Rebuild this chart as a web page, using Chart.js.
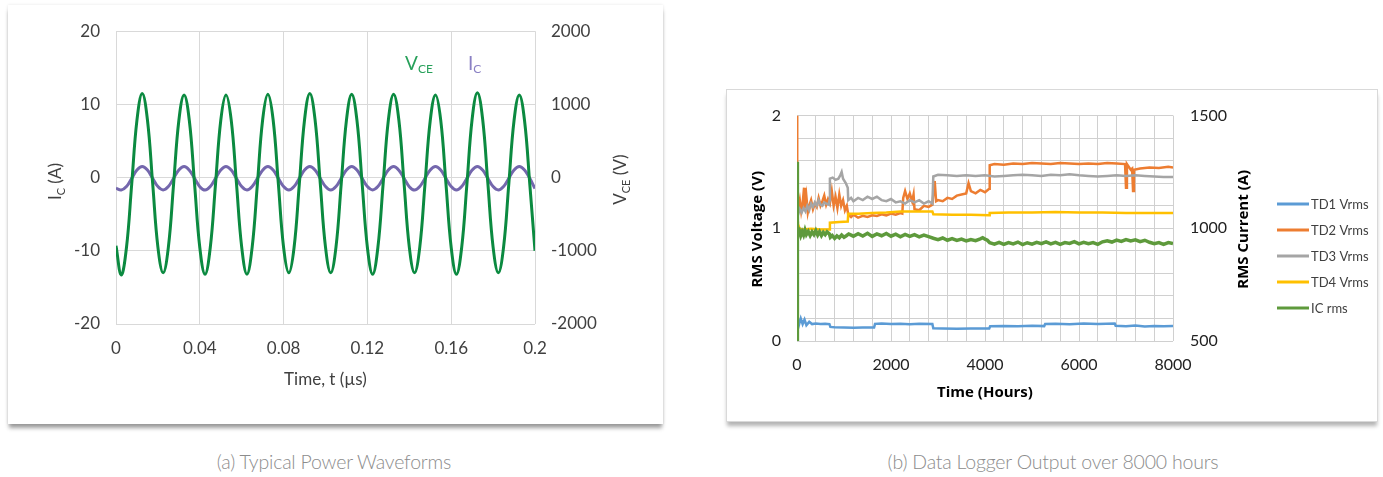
<!DOCTYPE html>
<html lang="en">
<head>
    <meta charset="UTF-8">
    <title>Typical Power Waveforms / Data Logger Output</title>
    <script src="https://cdn.jsdelivr.net/npm/chart.js"></script>
    <style>
        body { margin: 0; width: 1383px; height: 477px; background: #fff; position: relative; overflow: hidden; font-family: Lato, sans-serif; }
        .panel { position: absolute; background: #fff; }
        #panelA { left: 8px; top: 5px; width: 655px; height: 419px; box-shadow: 0 5px 4px -1px rgba(0,0,0,0.38), 0 0 3px rgba(0,0,0,0.10); }
        #panelB { left: 726px; top: 89px; width: 650px; height: 331px; border: 1px solid #d9d9d9; box-shadow: 0 5px 4px -1px rgba(0,0,0,0.30); }
        canvas { position: absolute; }
        .caption { position: absolute; top: 450px; color: #8c8c8c; font-size: 19.5px; font-weight: 300; text-align: center; width: 400px; letter-spacing: -0.2px; }
    </style>
</head>
<body>
    <div class="panel" id="panelA"></div>
    <div class="panel" id="panelB"></div>
    <canvas id="waveChart" width="655" height="419" style="left:8px; top:5px;"></canvas>
    <canvas id="loggerChart" width="652" height="333" style="left:726px; top:89px;"></canvas>
    <div class="caption" style="left:134px;">(a) Typical Power Waveforms</div>
    <div class="caption" style="left:853px;">(b) Data Logger Output over 8000 hours</div>

    <script>
        // ---------- (a) waveforms, sampled every 0.0025 µs ----------
        const sampleStepUs = 0.0025;
        const vceVolts = [-930,
            -1330, -955, -90, 785, 1150, 790, -80, -950,
            -1300, -950, -85, 780, 1130, 780, -85, -955,
            -1320, -955, -90, 780, 1130, 785, -80, -950,
            -1320, -950, -85, 790, 1140, 790, -85, -955,
            -1300, -955, -90, 790, 1150, 795, -80, -950,
            -1300, -950, -85, 785, 1140, 785, -85, -955,
            -1320, -955, -90, 785, 1140, 790, -80, -950,
            -1300, -950, -85, 780, 1130, 785, -85, -955,
            -1320, -955, -90, 800, 1160, 800, -80, -950,
            -1300, -950, -85, 780, 1130, 780, -85, -1000];
        const icAmps = [-1.45,
            -1.7, -1.23, -0.1, 1.03, 1.5, 1.03, -0.1, -1.23,
            -1.68, -1.22, -0.1, 1.04, 1.5, 1.02, -0.1, -1.24,
            -1.7, -1.23, -0.1, 1.03, 1.52, 1.03, -0.1, -1.23,
            -1.69, -1.22, -0.1, 1.02, 1.5, 1.03, -0.1, -1.23,
            -1.7, -1.23, -0.1, 1.03, 1.5, 1.04, -0.1, -1.22,
            -1.7, -1.23, -0.1, 1.03, 1.51, 1.03, -0.1, -1.23,
            -1.68, -1.23, -0.1, 1.03, 1.5, 1.02, -0.1, -1.24,
            -1.7, -1.22, -0.1, 1.04, 1.5, 1.03, -0.1, -1.23,
            -1.7, -1.23, -0.1, 1.03, 1.52, 1.03, -0.1, -1.23,
            -1.69, -1.22, -0.1, 1.03, 1.5, 1.03, -0.1, -1.5];
        const timeUs = vceVolts.map((_, i) => +(i * sampleStepUs).toFixed(4));

        // ---------- (b) logger output ----------
        const td1Hours = [0, 10, 40, 80, 120, 160, 200, 260, 320, 400, 500, 600, 690, 710, 800, 1000, 1200, 1400, 1640, 1660, 1800, 2000, 2200, 2400, 2600, 2880, 2900, 3100, 3400, 3700, 4090, 4110, 4400, 4700, 5000, 5260, 5280, 5500, 5800, 6100, 6400, 6760, 6780, 7000, 7200, 7400, 7600, 7800, 8000];
        const td1Vrms = [0.16, 0.21, 0.14, 0.20, 0.15, 0.19, 0.14, 0.17, 0.15, 0.155, 0.15, 0.152, 0.15, 0.125, 0.122, 0.12, 0.118, 0.119, 0.12, 0.152, 0.155, 0.15, 0.153, 0.148, 0.152, 0.15, 0.112, 0.11, 0.109, 0.11, 0.11, 0.13, 0.133, 0.13, 0.135, 0.132, 0.15, 0.152, 0.148, 0.155, 0.15, 0.155, 0.135, 0.13, 0.138, 0.128, 0.132, 0.13, 0.133];

        const td2Hours = [0, 5, 30, 60, 90, 120, 150, 170, 200, 230, 260, 300, 340, 380, 420, 460, 500, 540, 580, 620, 660, 700, 740, 780, 820, 860, 900, 940, 980, 1020, 1060, 1090, 1150, 1200, 1300, 1400, 1500, 1600, 1700, 1800, 1900, 2000, 2100, 2200, 2240, 2260, 2300, 2350, 2400, 2450, 2480, 2500, 2600, 2700, 2800, 2880, 2900, 2930, 2960, 3000, 3100, 3200, 3300, 3400, 3500, 3600, 3650, 3700, 3800, 3900, 4000, 4090, 4100, 4200, 4400, 4600, 4800, 5000, 5200, 5400, 5600, 5800, 6000, 6200, 6400, 6600, 6800, 6980, 7000, 7020, 7100, 7130, 7150, 7170, 7300, 7500, 7700, 7900, 8000];
        const td2Vrms = [2.0, 1.3, 1.18, 1.25, 1.15, 1.22, 1.36, 1.18, 1.28, 1.14, 1.2, 1.25, 1.17, 1.22, 1.19, 1.27, 1.2, 1.24, 1.29, 1.21, 1.26, 1.22, 1.33, 1.2, 1.28, 1.18, 1.3, 1.2, 1.25, 1.16, 1.2, 1.12, 1.1, 1.12, 1.095, 1.11, 1.1, 1.115, 1.11, 1.125, 1.115, 1.13, 1.12, 1.135, 1.13, 1.27, 1.33, 1.26, 1.31, 1.24, 1.3, 1.17, 1.16, 1.2, 1.19, 1.21, 1.3, 1.42, 1.24, 1.25, 1.24, 1.27, 1.26, 1.29, 1.3, 1.31, 1.4, 1.33, 1.31, 1.34, 1.32, 1.35, 1.56, 1.57, 1.565, 1.575, 1.57, 1.58, 1.575, 1.57, 1.58, 1.575, 1.57, 1.575, 1.57, 1.58, 1.575, 1.57, 1.36, 1.57, 1.52, 1.53, 1.33, 1.52, 1.53, 1.54, 1.535, 1.545, 1.54];

        const td3Hours = [0, 30, 60, 100, 140, 180, 220, 260, 300, 340, 380, 420, 460, 500, 540, 580, 620, 680, 690, 700, 760, 820, 880, 920, 950, 980, 1040, 1080, 1090, 1150, 1200, 1300, 1400, 1500, 1600, 1700, 1800, 1900, 2000, 2100, 2200, 2300, 2400, 2500, 2600, 2700, 2800, 2880, 2900, 3000, 3200, 3400, 3600, 3800, 4000, 4200, 4400, 4600, 4800, 5000, 5200, 5400, 5600, 5800, 6000, 6200, 6400, 6600, 6800, 7000, 7200, 7400, 7600, 7800, 8000];
        const td3Vrms = [1.16, 1.13, 1.17, 1.14, 1.18, 1.15, 1.2, 1.16, 1.22, 1.19, 1.23, 1.2, 1.25, 1.21, 1.2, 1.23, 1.22, 1.21, 1.25, 1.44, 1.45, 1.43, 1.44, 1.47, 1.5, 1.44, 1.4, 1.36, 1.25, 1.27, 1.24, 1.27, 1.25, 1.28, 1.26, 1.28, 1.25, 1.24, 1.26, 1.23, 1.24, 1.22, 1.25, 1.23, 1.25, 1.22, 1.24, 1.22, 1.46, 1.475, 1.47, 1.465, 1.47, 1.465, 1.47, 1.46, 1.465, 1.47, 1.475, 1.47, 1.465, 1.475, 1.47, 1.48, 1.47, 1.465, 1.46, 1.465, 1.47, 1.465, 1.47, 1.465, 1.46, 1.455, 1.455];

        const td4Hours = [0, 20, 50, 100, 300, 500, 690, 700, 900, 1080, 1090, 1300, 1600, 1900, 2200, 2500, 2880, 2900, 3300, 3700, 4090, 4100, 4500, 5000, 5500, 6000, 6500, 7000, 7500, 8000];
        const td4Vrms = [1.06, 1.04, 1.0, 0.99, 0.995, 0.99, 0.99, 1.05, 1.055, 1.06, 1.13, 1.13, 1.135, 1.14, 1.148, 1.15, 1.15, 1.125, 1.12, 1.12, 1.115, 1.135, 1.14, 1.14, 1.145, 1.14, 1.14, 1.135, 1.135, 1.135];

        const icHours = [0, 0, 5, 20, 50, 80, 110, 140, 170, 200, 240, 280, 320, 360, 400, 440, 480, 520, 560, 600, 640, 690, 710, 750, 800, 850, 900, 950, 1000, 1050, 1100, 1200, 1300, 1400, 1500, 1600, 1700, 1800, 1900, 2000, 2100, 2200, 2300, 2400, 2500, 2600, 2700, 2800, 2900, 3000, 3100, 3200, 3300, 3400, 3500, 3600, 3700, 3800, 3900, 3950, 4000, 4050, 4100, 4200, 4300, 4400, 4500, 4600, 4700, 4800, 4900, 5000, 5100, 5200, 5300, 5400, 5500, 5600, 5700, 5800, 5900, 6000, 6100, 6200, 6300, 6400, 6500, 6600, 6700, 6800, 6900, 7000, 7100, 7200, 7300, 7400, 7500, 7600, 7700, 7800, 7900, 8000];
        const icRms = [500, 1295, 900, 978, 990, 968, 985, 970, 992, 972, 986, 968, 984, 972, 990, 970, 985, 968, 982, 972, 984, 975, 960, 968, 955, 966, 958, 970, 960, 967, 975, 965, 976, 966, 978, 964, 975, 967, 977, 965, 974, 962, 973, 964, 972, 962, 970, 963, 956, 950, 957, 947, 954, 946, 952, 944, 950, 945, 953, 958, 952, 947, 936, 930, 938, 929, 937, 931, 939, 928, 936, 930, 938, 932, 940, 931, 938, 929, 937, 933, 941, 931, 938, 932, 937, 929, 940, 945, 939, 948, 942, 950, 944, 949, 941, 947, 938, 932, 937, 929, 937, 932];

        const loggerSeries = [
            { label: 'TD1 Vrms', hours: td1Hours, values: td1Vrms, color: '#5b9bd5', axis: 'yVolt', order: 5 },
            { label: 'TD2 Vrms', hours: td2Hours, values: td2Vrms, color: '#ed7d31', axis: 'yVolt', order: 4 },
            { label: 'TD3 Vrms', hours: td3Hours, values: td3Vrms, color: '#a5a5a5', axis: 'yVolt', order: 3 },
            { label: 'TD4 Vrms', hours: td4Hours, values: td4Vrms, color: '#ffc000', axis: 'yVolt', order: 2 },
            { label: 'IC rms', hours: icHours, values: icRms, color: '#5e9a3c', axis: 'yAmp', order: 1 }
        ];

        Chart.defaults.font.family = 'Lato, sans-serif';

        const toPoints = (xs, ys) => xs.map((x, i) => ({ x: x, y: ys[i] }));

        // text with subscripts, e.g. I_C ; parts = [{text, sub}]
        function drawRichText(ctx, parts, x, y, angle, size, color, align) {
            const font = size + 'px Lato, sans-serif';
            const subFont = Math.round(size * 0.65) + 'px Lato, sans-serif';
            ctx.save();
            ctx.translate(x, y);
            ctx.rotate(angle);
            ctx.fillStyle = color;
            ctx.textBaseline = 'middle';
            ctx.textAlign = 'left';
            let total = 0;
            parts.forEach(p => { ctx.font = p.sub ? subFont : font; total += ctx.measureText(p.text).width; });
            let cx = align === 'left' ? 0 : -total / 2;
            parts.forEach(p => {
                ctx.font = p.sub ? subFont : font;
                ctx.fillText(p.text, cx, p.sub ? size * 0.3 : 0);
                cx += ctx.measureText(p.text).width;
            });
            ctx.restore();
        }

        const waveTitles = {
            id: 'waveTitles',
            afterDraw(chart) {
                const { ctx, chartArea: a, scales } = chart;
                const midY = (a.top + a.bottom) / 2;
                drawRichText(ctx, [{ text: 'I' }, { text: 'C', sub: true }, { text: ' (A)' }], a.left - 60, midY + 4, -Math.PI / 2, 17, '#404040');
                drawRichText(ctx, [{ text: 'V' }, { text: 'CE', sub: true }, { text: ' (V)' }], a.right + 86, midY + 2, -Math.PI / 2, 17, '#404040');
                drawRichText(ctx, [{ text: 'Time, t (µs)' }], (a.left + a.right) / 2, a.bottom + 56, 0, 17, '#404040');
                // series labels inside the plot
                drawRichText(ctx, [{ text: 'V' }, { text: 'CE', sub: true }], scales.x.getPixelForValue(0.138), scales.yI.getPixelForValue(15.6), 0, 19, '#27a05a', 'left');
                drawRichText(ctx, [{ text: 'I' }, { text: 'C', sub: true }], scales.x.getPixelForValue(0.168), scales.yI.getPixelForValue(15.6), 0, 19, '#8a80c4', 'left');
            }
        };

        new Chart(document.getElementById('waveChart'), {
            type: 'line',
            data: {
                datasets: [
                    { label: 'VCE', data: toPoints(timeUs, vceVolts), yAxisID: 'yV', borderColor: '#0b8a40', borderWidth: 3, pointRadius: 0, tension: 0.4 },
                    { label: 'IC', data: toPoints(timeUs, icAmps), yAxisID: 'yI', borderColor: '#7467ad', borderWidth: 3, pointRadius: 0, tension: 0.4 }
                ]
            },
            options: {
                responsive: false,
                animation: false,
                devicePixelRatio: 1,
                layout: { padding: { top: 25, left: 0, right: 0, bottom: 0 } },
                plugins: { legend: { display: false }, tooltip: { enabled: false } },
                scales: {
                    x: {
                        type: 'linear', min: 0, max: 0.2,
                        ticks: { stepSize: 0.04, padding: 14, color: '#404040', font: { size: 17 }, maxRotation: 0,
                            callback: v => v === 0 ? '0' : String(+v.toFixed(2)) },
                        grid: { color: '#d9d9d9', drawTicks: false },
                        border: { display: false },
                        afterFit: s => { s.height = 100; }
                    },
                    yI: {
                        position: 'left', min: -20, max: 20,
                        ticks: { stepSize: 10, padding: 16, color: '#404040', font: { size: 17 }, callback: v => String(v) },
                        grid: { color: '#d9d9d9', drawTicks: false },
                        border: { display: false },
                        afterFit: s => { s.width = 108; }
                    },
                    yV: {
                        position: 'right', min: -2000, max: 2000,
                        ticks: { stepSize: 1000, padding: 16, color: '#404040', font: { size: 17 }, callback: v => String(v) },
                        grid: { drawOnChartArea: false, drawTicks: false },
                        border: { display: false },
                        afterFit: s => { s.width = 128; }
                    }
                }
            },
            plugins: [waveTitles]
        });

        const loggerTitles = {
            id: 'loggerTitles',
            afterDraw(chart) {
                const { ctx, chartArea: a } = chart;
                const midY = (a.top + a.bottom) / 2;
                ctx.save();
                ctx.fillStyle = '#000';
                ctx.font = 'bold 15px "Open Sans", sans-serif';
                ctx.textAlign = 'center';
                ctx.textBaseline = 'middle';
                ctx.fillText('Time (Hours)', (a.left + a.right) / 2, a.bottom + 52);
                [[a.left - 39, 'RMS Voltage (V)'], [a.right + 71, 'RMS Current (A)']].forEach(([x, t]) => {
                    ctx.save();
                    ctx.translate(x, midY + 1);
                    ctx.rotate(-Math.PI / 2);
                    ctx.fillText(t, 0, 0);
                    ctx.restore();
                });
                // legend
                ctx.textAlign = 'left';
                ctx.font = '13px Lato, sans-serif';
                loggerSeries.forEach((s, i) => {
                    const y = 115 + i * 26;
                    ctx.strokeStyle = s.color;
                    ctx.lineWidth = 3;
                    ctx.beginPath();
                    ctx.moveTo(551, y);
                    ctx.lineTo(583, y);
                    ctx.stroke();
                    ctx.fillStyle = '#404040';
                    ctx.fillText(s.label, 585, y + 1);
                });
                ctx.restore();
            }
        };

        new Chart(document.getElementById('loggerChart'), {
            type: 'line',
            data: {
                datasets: loggerSeries.map(s => ({
                    label: s.label,
                    data: toPoints(s.hours, s.values),
                    yAxisID: s.axis,
                    order: s.order,
                    borderColor: s.color,
                    borderWidth: s.axis === 'yAmp' ? 3.5 : 2.5,
                    pointRadius: 0,
                    tension: 0
                }))
            },
            options: {
                responsive: false,
                animation: false,
                devicePixelRatio: 1,
                layout: { padding: { top: 19, left: 0, right: 0, bottom: 0 } },
                plugins: { legend: { display: false }, tooltip: { enabled: false } },
                scales: {
                    x: {
                        type: 'linear', min: 0, max: 8000,
                        ticks: { stepSize: 400, autoSkip: false, maxTicksLimit: 100, maxRotation: 0, padding: 14, color: '#222', font: { size: 16 },
                            callback: v => v % 2000 === 0 ? String(v) : '' },
                        grid: { color: '#d0d0d0', drawTicks: false },
                        border: { display: false },
                        afterFit: s => { s.height = 81; }
                    },
                    yVolt: {
                        position: 'left', min: 0, max: 2,
                        ticks: { stepSize: 0.2, autoSkip: false, padding: 16, color: '#222', font: { size: 16 },
                            callback: v => Math.abs(v - Math.round(v)) < 1e-6 ? String(Math.round(v)) : '' },
                        grid: { color: '#d0d0d0', drawTicks: false },
                        border: { display: false },
                        afterFit: s => { s.width = 71; }
                    },
                    yAmp: {
                        position: 'right', min: 500, max: 1500,
                        ticks: { stepSize: 500, padding: 17, color: '#222', font: { size: 16 }, callback: v => String(v) },
                        grid: { drawOnChartArea: false, drawTicks: false },
                        border: { display: false },
                        afterFit: s => { s.width = 205; }
                    }
                }
            },
            plugins: [loggerTitles]
        });
    </script>
</body>
</html>
